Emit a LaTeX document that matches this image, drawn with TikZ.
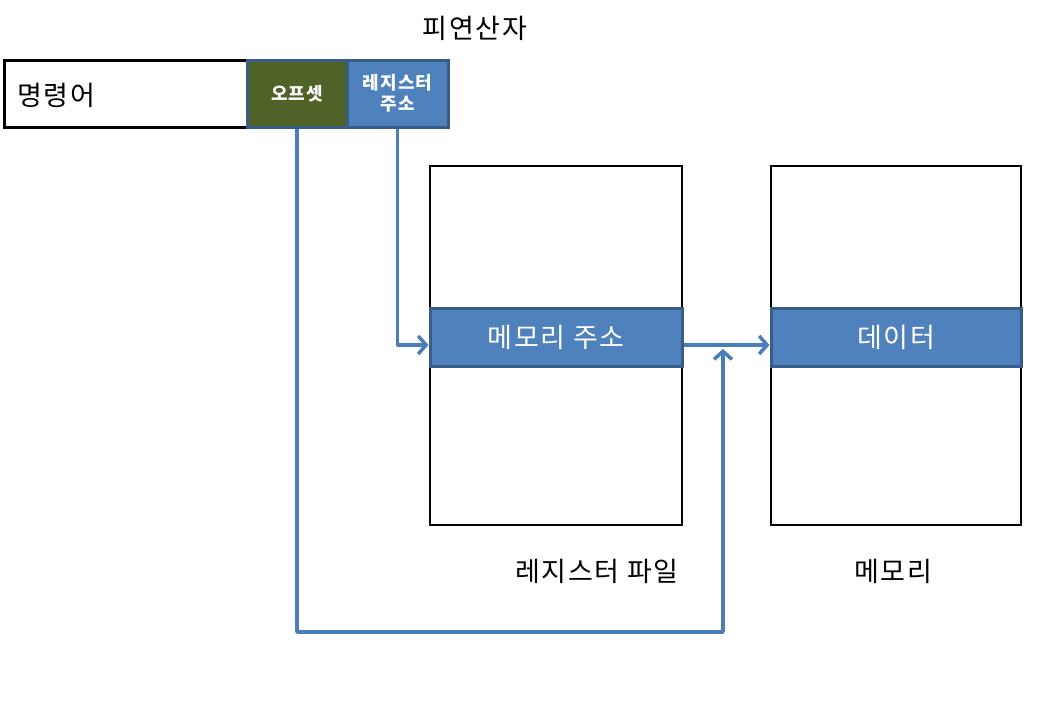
\documentclass[tikz,border=0pt]{standalone}
\usepackage{fontspec}
\setmainfont{Noto Sans CJK KR}[LetterSpace=6]
\usetikzlibrary{arrows.meta, positioning}
\definecolor{linkblue}{HTML}{4A7EBB}
\definecolor{bandblue}{HTML}{4F81BD}
\definecolor{edgeblue}{HTML}{385D8A}
\definecolor{offolive}{HTML}{4F6228}
\tikzset{
  plainbox/.style={draw=black, line width=2.5pt, fill=white, inner sep=0pt},
  fieldbox/.style={draw=edgeblue, line width=3pt, inner sep=0pt, text=white,
    font=\fontsize{18}{21}\selectfont\bfseries, align=center},
  bandbox/.style={draw=edgeblue, fill=bandblue, line width=3pt, inner sep=0pt,
    text=white, font=\fontsize{27}{30}\selectfont},
  caption/.style={font=\fontsize{27}{30}\selectfont, inner sep=0pt},
  link/.style={draw=linkblue, line width=3.5pt, line join=round,
    -{Straight Barb[length=8pt, width=18pt]}},
}
\begin{document}
\begin{tikzpicture}[x=1pt, y=-1pt]
\useasboundingbox (0,0) rectangle (1037,713);
% instruction word
\node[plainbox, line width=3pt, minimum width=243pt, minimum height=67pt] (instr) at (125.5,93.5) {};
\node[caption, anchor=west] (opcode) at (17,95) {명령어};
\node[fieldbox, fill=offolive, minimum width=100pt, minimum height=67pt] (offset) at (297,93.5) {오프셋};
\node[fieldbox, fill=bandblue, minimum width=101pt, minimum height=67pt] (regaddr) at (397.5,93.5) {레지스터\\주소};
\node[caption] (operand) at (475,28) {피연산자};
% register file
\node[plainbox, minimum width=252pt, minimum height=359pt] (regfile) at (556,345.5) {};
\node[bandbox, minimum width=252pt, minimum height=58pt] (regband) at (556,337) {메모리 주소};
\node[caption] (regname) at (597,571) {레지스터 파일};
% memory
\node[plainbox, minimum width=250pt, minimum height=359pt] (mem) at (896,345.5) {};
\node[bandbox, minimum width=250pt, minimum height=58pt] (memband) at (896,337) {데이터};
\node[caption] (memname) at (893,571) {메모리};
% connectors
\coordinate (bend) at (723,632);
\coordinate (joint) at (723,349);
\draw[link] (regaddr.south) |- ([yshift=-8pt]regband.west);
\draw[link] ([yshift=-8pt]regband.east) -- ([yshift=-8pt]memband.west);
\draw[link] (offset.south) |- (bend) -- (joint);
\end{tikzpicture}
\end{document}
